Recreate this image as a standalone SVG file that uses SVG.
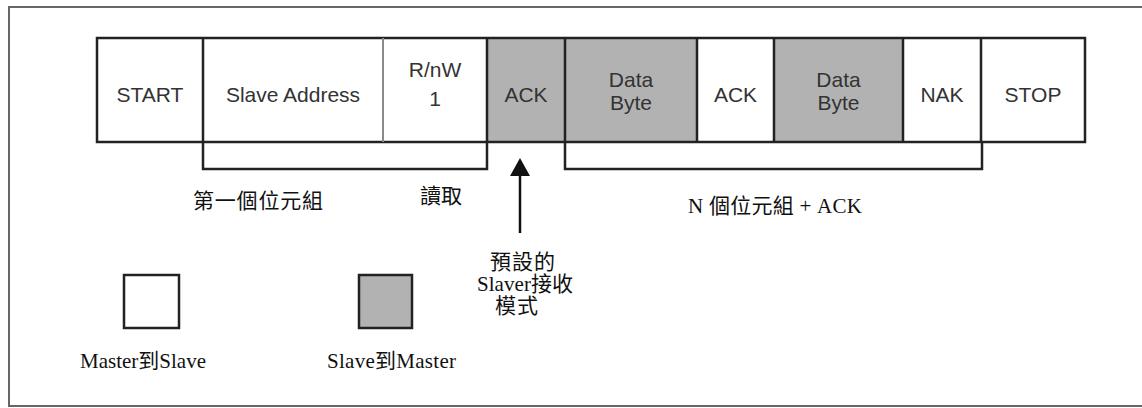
<svg xmlns="http://www.w3.org/2000/svg" width="1142" height="408" viewBox="0 0 1142 408">
<style>
.w{fill:#ffffff}
.g{fill:#b2b2b2}
.ln{stroke:#222;stroke-width:2.5;fill:none}
.lg{stroke:#8a8a8a;stroke-width:2;fill:none}
.bl{font-family:"Liberation Sans",Arial,sans-serif;font-size:21px;fill:#333;text-anchor:middle}
.cj{font-family:"Liberation Serif","Noto Sans CJK TC",serif;font-size:21px;fill:#111}
</style>
<rect x="0" y="0" width="1142" height="408" fill="#ffffff"/>
<rect id="frame" x="9" y="7" width="1140" height="399" fill="none" stroke="#666" stroke-width="2"/>

<g id="start"><rect class="w" x="97" y="38" width="106" height="104"/><text class="bl" x="150" y="102">START</text></g>
<g id="slave-address"><rect class="w" x="203" y="38" width="180" height="104"/><text class="bl" x="293" y="102">Slave Address</text></g>
<g id="rnw"><rect class="w" x="383" y="38" width="104" height="104"/><text class="bl" x="435" y="77">R/nW</text><text class="bl" x="435" y="106">1</text></g>
<g id="ack1"><rect class="g" x="487" y="38" width="78" height="104"/><text class="bl" x="526" y="102">ACK</text></g>
<g id="data1"><rect class="g" x="565" y="38" width="132" height="104"/><text class="bl" x="631" y="87">Data</text><text class="bl" x="631" y="110">Byte</text></g>
<g id="ack2"><rect class="w" x="697" y="38" width="77" height="104"/><text class="bl" x="735.5" y="102">ACK</text></g>
<g id="data2"><rect class="g" x="774" y="38" width="129" height="104"/><text class="bl" x="838.5" y="87">Data</text><text class="bl" x="838.5" y="110">Byte</text></g>
<g id="nak"><rect class="w" x="903" y="38" width="78" height="104"/><text class="bl" x="942" y="102">NAK</text></g>
<g id="stop"><rect class="w" x="981" y="38" width="104" height="104"/><text class="bl" x="1033" y="102">STOP</text></g>

<g id="box-lines">
<path class="ln" d="M97,38 H1085 V142 H97 Z"/>
<path class="lg" d="M383,38 V142"/>
<path class="ln" d="M565,38 V142 M697,38 V142 M774,38 V142 M903,38 V142 M981,38 V142"/>
</g>

<g id="connectors">
<path class="ln" d="M203,38 V169 H487 V38"/>
<path class="ln" d="M565,142 V169 H982 V142"/>
<line x1="520" y1="233" x2="520" y2="174" stroke="#111" stroke-width="2.5"/>
<polygon points="520,158 510,176 530,176" fill="#111"/>
</g>

<g id="label-first-byte"><text class="cj" x="193" y="208" textLength="130" lengthAdjust="spacing">第一個位元組</text></g>
<g id="label-read"><text class="cj" x="420" y="203" textLength="42" lengthAdjust="spacing">讀取</text></g>
<g id="label-n-bytes"><text class="cj" x="688" y="213" textLength="174" lengthAdjust="spacing">N 個位元組 + ACK</text></g>
<g id="label-default">
<text class="cj" x="490" y="269" textLength="65" lengthAdjust="spacing">預設的</text>
<text class="cj" x="477" y="291" textLength="96" lengthAdjust="spacing">Slaver接收</text>
<text class="cj" x="495" y="313" textLength="43" lengthAdjust="spacing">模式</text>
</g>

<g id="legend-master">
<rect x="124" y="275" width="55" height="53" fill="#fff" stroke="#222" stroke-width="2.5"/>
<text class="cj" x="80" y="368" textLength="126" lengthAdjust="spacing">Master到Slave</text>
</g>
<g id="legend-slave">
<rect x="359" y="275" width="53" height="53" fill="#b2b2b2" stroke="#222" stroke-width="2.5"/>
<text class="cj" x="327" y="368" textLength="129" lengthAdjust="spacing">Slave到Master</text>
</g>
</svg>
